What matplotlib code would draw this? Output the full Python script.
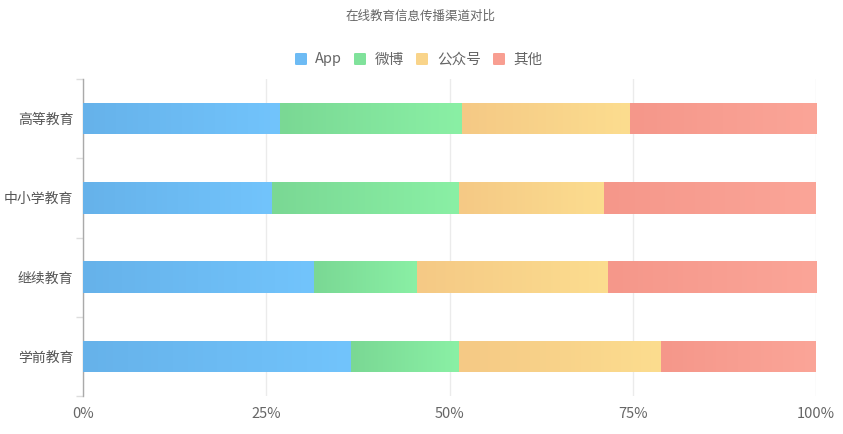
import numpy as np
import matplotlib
matplotlib.use("Agg")
import matplotlib.pyplot as plt
from matplotlib.colors import LinearSegmentedColormap
from matplotlib.patches import FancyBboxPatch
from matplotlib.ticker import FixedLocator

plt.rcParams['font.family'] = ['Noto Sans CJK SC', 'DejaVu Sans']

title = "在线教育信息传播渠道对比"
categories = ["高等教育", "中小学教育", "继续教育", "学前教育"]
series_names = ["App", "微博", "公众号", "其他"]
# share of each channel per category (%)
app = [26.9, 25.8, 31.5, 36.6]
weibo = [24.8, 25.5, 14.1, 14.7]
wechat = [22.9, 19.8, 26.0, 27.6]
other = [25.4, 28.9, 28.4, 21.1]
x_ticks = [0, 25, 50, 75, 100]
x_tick_labels = ["0%", "25%", "50%", "75%", "100%"]

series = [app, weibo, wechat, other]
gradients = [
    ("#66b2ea", "#72c4fc"),
    ("#7ad894", "#8af0a5"),
    ("#f5c985", "#fcdd8f"),
    ("#f5978a", "#fba598"),
]

W, H = 843, 434
fig = plt.figure(figsize=(W / 100, H / 100), dpi=100)
ax = fig.add_axes([83 / W, 1 - 396 / H, (816 - 83) / W, (396 - 79) / H])

n = len(categories)
ypos = np.arange(n)[::-1]  # first category on top
bar_h = 0.4
grad = np.linspace(0, 1, 256).reshape(1, -1)

left = np.zeros(n)
for vals, (c0, c1), name in zip(series, gradients, series_names):
    vals = np.asarray(vals, dtype=float)
    bars = ax.barh(ypos, vals, left=left, height=bar_h, color=c1,
                   edgecolor="none", zorder=2, label=name)
    cmap = LinearSegmentedColormap.from_list(name, [c0, c1])
    for rect, l, v, y in zip(bars, left, vals, ypos):
        im = ax.imshow(grad, cmap=cmap, aspect="auto", interpolation="bicubic",
                       extent=(l, l + v, y - bar_h / 2, y + bar_h / 2), zorder=3)
        im.set_clip_path(rect)
    left = left + vals

ax.set_xlim(0, 100)
ax.set_ylim(-0.5, n - 0.5)

# axis styling
for s in ["top", "right", "bottom"]:
    ax.spines[s].set_visible(False)
ax.spines["left"].set_color("#aaaaaa")
ax.spines["left"].set_linewidth(1)

ax.set_xticks(x_ticks)
ax.set_xticklabels(x_tick_labels)
ax.tick_params(axis="x", length=0, pad=8, labelsize=10.5, colors="#666666")
ax.grid(axis="x", color="#ebebeb", linewidth=1, zorder=0)
ax.set_axisbelow(True)

ax.set_yticks(ypos)
ax.set_yticklabels(categories)
ax.tick_params(axis="y", which="major", length=0, pad=7, labelsize=10,
               colors="#555555")
ax.yaxis.set_minor_locator(FixedLocator(np.arange(-0.5, n, 1.0)))
ax.tick_params(axis="y", which="minor", length=5, width=1, color="#dddddd")

# title
fig.text(421 / W, 1 - 16 / H, title, ha="center", va="center",
         fontsize=9, color="#666666")

# legend drawn as rounded squares with labels
legend_items = [(295, 315), (354, 375), (416, 437), (493, 513)]
legend_colors = ["#6dbbf4", "#80e29b", "#f9d48a", "#f89e91"]
ly = 59
for (sx, tx), col, name in zip(legend_items, legend_colors, series_names):
    sq = FancyBboxPatch((sx / W, 1 - (ly + 6) / H), 12 / W, 12 / H,
                        boxstyle="round,pad=0,rounding_size=0.002",
                        transform=fig.transFigure, facecolor=col,
                        edgecolor="none")
    fig.patches.append(sq)
    fig.text(tx / W, 1 - (ly + 0.5) / H, name, ha="left", va="center",
             fontsize=10.5, color="#666666")

fig.savefig("out.png", dpi=100, facecolor="white")
